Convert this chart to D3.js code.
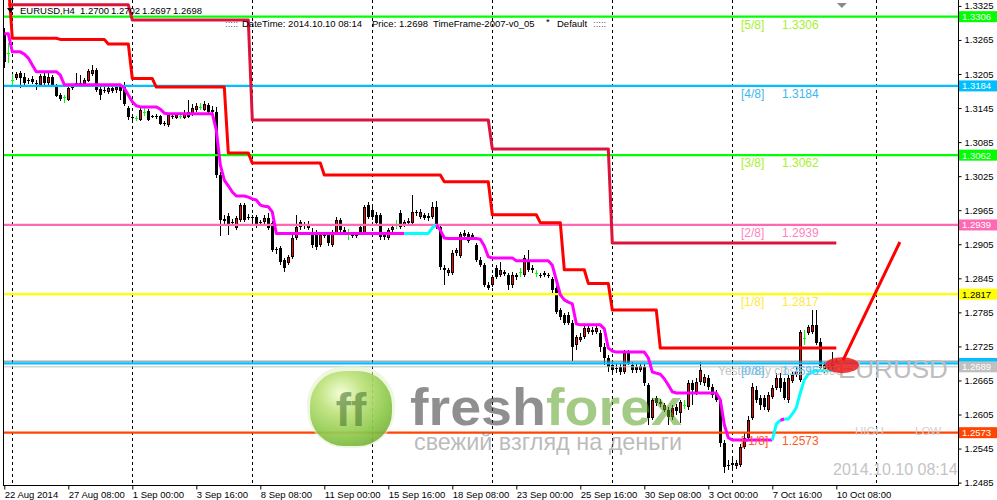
<!DOCTYPE html>
<html><head><meta charset="utf-8">
<script src="https://cdn.jsdelivr.net/npm/d3@7"></script>
<style>
body{margin:0;background:#fff}
svg{display:block}
text{font-family:"Liberation Sans",Arial,sans-serif}
</style>
</head><body>
<svg id="chart" width="997" height="500"></svg>
<script>
// ---------------- DATA ----------------
const symbolHeader = ["EURUSD,H4", "1.2700", "1.2702", "1.2697", "1.2698"];
const infoLine = [":::::", "DateTime: 2014.10.10 08:14", "Price: 1.2698", "TimeFrame-2007-v0_05", "*", "Default", ":::::"];

const priceTicks = [1.3325,1.3265,1.3205,1.3145,1.3085,1.3025,1.2965,1.2905,1.2845,1.2785,1.2725,1.2665,1.2605,1.2545,1.2485];
const timeTickBars = [0,16,32,48,64,80,96,112,128,144,160,176,192,208];
const timeTickLabels = ["22 Aug 2014","27 Aug 08:00","1 Sep 00:00","3 Sep 16:00","8 Sep 08:00","11 Sep 00:00","15 Sep 16:00","18 Sep 08:00","23 Sep 00:00","25 Sep 16:00","30 Sep 08:00","3 Oct 00:00","7 Oct 16:00","10 Oct 08:00"];
const weekStartBars = [2,32,62,92,122,152,182,218];

// OHLC, H4 bars from 22 Aug 2014 16:00 to 10 Oct 2014 08:00
const candles = [
[1.3277,1.3286,1.3216,1.3226],[1.3242,1.3260,1.3224,1.3242],[1.3194,1.3205,1.3184,1.3194],[1.3198,1.3209,1.3194,1.3205],
[1.3207,1.3210,1.3180,1.3198],[1.3200,1.3207,1.3186,1.3189],[1.3194,1.3198,1.3187,1.3193],[1.3196,1.3202,1.3187,1.3191],
[1.3189,1.3194,1.3177,1.3187],[1.3186,1.3205,1.3182,1.3202],[1.3202,1.3207,1.3186,1.3189],[1.3189,1.3207,1.3186,1.3200],
[1.3200,1.3203,1.3184,1.3186],[1.3186,1.3187,1.3165,1.3166],[1.3168,1.3172,1.3157,1.3161],[1.3165,1.3168,1.3154,1.3165],
[1.3159,1.3184,1.3157,1.3180],[1.3180,1.3186,1.3177,1.3182],[1.3189,1.3207,1.3182,1.3186],[1.3186,1.3203,1.3182,1.3189],
[1.3187,1.3198,1.3184,1.3194],[1.3193,1.3214,1.3191,1.3210],[1.3205,1.3221,1.3202,1.3212],[1.3212,1.3216,1.3173,1.3177],
[1.3179,1.3182,1.3159,1.3168],[1.3177,1.3182,1.3172,1.3175],[1.3173,1.3184,1.3170,1.3180],[1.3180,1.3184,1.3172,1.3175],
[1.3177,1.3186,1.3172,1.3182],[1.3182,1.3187,1.3159,1.3175],[1.3184,1.3191,1.3149,1.3152],[1.3145,1.3149,1.3124,1.3129],
[1.3129,1.3133,1.3124,1.3128],[1.3128,1.3131,1.3122,1.3128],[1.3124,1.3145,1.3122,1.3142],[1.3138,1.3147,1.3131,1.3138],
[1.3140,1.3143,1.3122,1.3124],[1.3129,1.3133,1.3128,1.3131],[1.3131,1.3135,1.3126,1.3129],[1.3131,1.3133,1.3115,1.3117],
[1.3119,1.3122,1.3113,1.3117],[1.3115,1.3135,1.3112,1.3133],[1.3131,1.3135,1.3126,1.3129],[1.3128,1.3136,1.3126,1.3133],
[1.3131,1.3138,1.3126,1.3131],[1.3128,1.3142,1.3126,1.3136],[1.3138,1.3159,1.3128,1.3129],[1.3133,1.3152,1.3131,1.3145],
[1.3142,1.3154,1.3138,1.3149],[1.3147,1.3154,1.3142,1.3147],[1.3142,1.3157,1.3140,1.3152],[1.3150,1.3154,1.3135,1.3138],
[1.3142,1.3149,1.3136,1.3138],[1.3138,1.3147,1.3022,1.3027],[1.3027,1.3032,1.2920,1.2948],[1.2950,1.2957,1.2939,1.2946],
[1.2955,1.2960,1.2921,1.2939],[1.2944,1.2950,1.2937,1.2942],[1.2934,1.2955,1.2930,1.2951],[1.2948,1.2978,1.2944,1.2974],
[1.2974,1.2978,1.2944,1.2948],[1.2951,1.2958,1.2948,1.2953],[1.2953,1.2957,1.2944,1.2951],[1.2953,1.2957,1.2934,1.2941],
[1.2944,1.2948,1.2939,1.2942],[1.2944,1.2957,1.2941,1.2951],[1.2951,1.2960,1.2930,1.2934],[1.2942,1.2946,1.2891,1.2895],
[1.2897,1.2900,1.2888,1.2895],[1.2898,1.2902,1.2868,1.2874],[1.2877,1.2881,1.2856,1.2863],[1.2872,1.2886,1.2868,1.2883],
[1.2883,1.2921,1.2879,1.2916],[1.2916,1.2957,1.2913,1.2935],[1.2944,1.2948,1.2930,1.2935],[1.2939,1.2944,1.2932,1.2937],
[1.2934,1.2946,1.2930,1.2941],[1.2925,1.2934,1.2898,1.2904],[1.2925,1.2930,1.2895,1.2900],[1.2904,1.2927,1.2900,1.2921],
[1.2921,1.2927,1.2916,1.2920],[1.2921,1.2927,1.2902,1.2907],[1.2904,1.2930,1.2900,1.2925],[1.2925,1.2953,1.2921,1.2948],
[1.2948,1.2951,1.2927,1.2930],[1.2930,1.2935,1.2921,1.2925],[1.2923,1.2932,1.2913,1.2923],[1.2923,1.2927,1.2916,1.2920],
[1.2920,1.2925,1.2916,1.2921],[1.2935,1.2939,1.2921,1.2925],[1.2925,1.2974,1.2921,1.2971],[1.2974,1.2980,1.2950,1.2953],
[1.2965,1.2971,1.2948,1.2953],[1.2957,1.2962,1.2937,1.2942],[1.2957,1.2960,1.2913,1.2918],[1.2921,1.2925,1.2913,1.2918],
[1.2916,1.2934,1.2913,1.2930],[1.2930,1.2939,1.2927,1.2935],[1.2939,1.2948,1.2932,1.2939],[1.2960,1.2965,1.2932,1.2935],
[1.2939,1.2948,1.2935,1.2944],[1.2942,1.2951,1.2939,1.2946],[1.2942,1.2992,1.2939,1.2962],[1.2962,1.2965,1.2955,1.2960],
[1.2953,1.2967,1.2950,1.2962],[1.2957,1.2960,1.2948,1.2951],[1.2955,1.2960,1.2946,1.2951],[1.2953,1.2980,1.2950,1.2971],
[1.2971,1.2981,1.2932,1.2935],[1.2935,1.2941,1.2860,1.2865],[1.2863,1.2868,1.2833,1.2860],[1.2854,1.2863,1.2849,1.2860],
[1.2854,1.2895,1.2851,1.2890],[1.2890,1.2898,1.2884,1.2895],[1.2884,1.2927,1.2881,1.2923],[1.2925,1.2930,1.2916,1.2920],
[1.2923,1.2927,1.2907,1.2911],[1.2921,1.2925,1.2914,1.2918],[1.2904,1.2907,1.2874,1.2877],[1.2877,1.2883,1.2865,1.2868],
[1.2868,1.2872,1.2830,1.2833],[1.2833,1.2839,1.2824,1.2828],[1.2833,1.2851,1.2830,1.2847],[1.2863,1.2868,1.2844,1.2847],
[1.2851,1.2874,1.2847,1.2860],[1.2856,1.2860,1.2849,1.2853],[1.2851,1.2854,1.2824,1.2833],[1.2833,1.2856,1.2828,1.2851],
[1.2847,1.2854,1.2842,1.2851],[1.2856,1.2863,1.2847,1.2856],[1.2851,1.2886,1.2847,1.2881],[1.2877,1.2895,1.2856,1.2860],
[1.2860,1.2868,1.2854,1.2863],[1.2854,1.2860,1.2847,1.2854],[1.2851,1.2854,1.2845,1.2849],[1.2851,1.2858,1.2847,1.2854],
[1.2851,1.2854,1.2845,1.2849],[1.2844,1.2847,1.2819,1.2824],[1.2828,1.2831,1.2782,1.2786],[1.2789,1.2793,1.2772,1.2777],
[1.2780,1.2784,1.2763,1.2766],[1.2780,1.2786,1.2763,1.2766],[1.2766,1.2772,1.2699,1.2724],[1.2728,1.2745,1.2719,1.2742],
[1.2736,1.2749,1.2733,1.2742],[1.2742,1.2763,1.2738,1.2757],[1.2750,1.2763,1.2747,1.2757],[1.2754,1.2759,1.2745,1.2750],
[1.2750,1.2761,1.2747,1.2757],[1.2749,1.2754,1.2715,1.2724],[1.2724,1.2731,1.2692,1.2705],[1.2705,1.2710,1.2680,1.2689],
[1.2692,1.2698,1.2675,1.2683],[1.2687,1.2694,1.2678,1.2685],[1.2689,1.2696,1.2675,1.2680],[1.2680,1.2719,1.2676,1.2713],
[1.2713,1.2719,1.2692,1.2696],[1.2692,1.2698,1.2678,1.2683],[1.2689,1.2696,1.2678,1.2683],[1.2683,1.2696,1.2680,1.2690],
[1.2689,1.2694,1.2655,1.2660],[1.2657,1.2660,1.2587,1.2599],[1.2599,1.2634,1.2595,1.2631],[1.2634,1.2638,1.2620,1.2625],
[1.2627,1.2632,1.2618,1.2624],[1.2613,1.2625,1.2609,1.2622],[1.2613,1.2618,1.2587,1.2601],[1.2601,1.2622,1.2595,1.2617],
[1.2618,1.2624,1.2604,1.2611],[1.2608,1.2631,1.2590,1.2627],[1.2622,1.2631,1.2615,1.2622],[1.2618,1.2666,1.2613,1.2660],
[1.2660,1.2666,1.2622,1.2648],[1.2645,1.2669,1.2639,1.2662],[1.2662,1.2698,1.2657,1.2683],[1.2660,1.2676,1.2655,1.2671],
[1.2669,1.2675,1.2648,1.2654],[1.2654,1.2659,1.2634,1.2639],[1.2643,1.2648,1.2627,1.2631],[1.2631,1.2634,1.2548,1.2555],
[1.2555,1.2560,1.2502,1.2513],[1.2516,1.2525,1.2507,1.2514],[1.2520,1.2528,1.2507,1.2516],[1.2514,1.2525,1.2509,1.2520],
[1.2516,1.2553,1.2513,1.2548],[1.2548,1.2574,1.2544,1.2564],[1.2564,1.2602,1.2560,1.2595],[1.2599,1.2660,1.2595,1.2654],
[1.2648,1.2655,1.2625,1.2631],[1.2634,1.2639,1.2613,1.2622],[1.2634,1.2639,1.2613,1.2618],[1.2613,1.2645,1.2609,1.2639],
[1.2636,1.2657,1.2632,1.2652],[1.2652,1.2678,1.2648,1.2669],[1.2669,1.2678,1.2645,1.2652],[1.2662,1.2669,1.2631,1.2634],
[1.2631,1.2675,1.2625,1.2669],[1.2664,1.2680,1.2660,1.2675],[1.2675,1.2689,1.2671,1.2682],[1.2666,1.2754,1.2662,1.2750],
[1.2740,1.2754,1.2727,1.2740],[1.2749,1.2763,1.2745,1.2759],[1.2750,1.2789,1.2747,1.2763],[1.2763,1.2789,1.2727,1.2731],
[1.2733,1.2740,1.2680,1.2687],[1.2692,1.2698,1.2678,1.2683],[1.2689,1.2694,1.2683,1.2687],[1.2689,1.2715,1.2685,1.2698],
[1.2700,1.2702,1.2697,1.2698]
];

// step lines: [startBar, level]
const weeklyLine = [[1,1.3327],[32,1.3300],[62,1.3124],[122,1.3073],[152,1.2907]];
const dailyLine = [[0,1.3370],[2,1.3268],[14,1.3266],[26,1.3258],[32,1.3197],[38,1.3182],[56,1.3066],[62,1.3048],[80,1.3027],[110,1.3015],[122,1.2957],[134,1.2943],[140,1.2860],[146,1.2836],[152,1.2789],[164,1.2722]];

// trailing line value per bar
const trailLine = [
1.3276,1.3276,1.3244,1.3244,1.3244,1.3240,1.3233,1.3221,1.3209,1.3209,1.3209,1.3209,1.3209,1.3209,1.3203,1.3186,
1.3186,1.3186,1.3186,1.3186,1.3186,1.3186,1.3186,1.3186,1.3186,1.3186,1.3186,1.3186,1.3186,1.3186,1.3180,1.3168,
1.3156,1.3149,1.3147,1.3147,1.3147,1.3147,1.3147,1.3143,1.3136,1.3135,1.3135,1.3135,1.3135,1.3135,1.3135,1.3135,
1.3135,1.3135,1.3135,1.3135,1.3135,1.3106,1.3045,1.3018,1.3008,1.2997,1.2990,1.2990,1.2990,1.2988,1.2985,1.2983,
1.2974,1.2972,1.2971,1.2962,1.2924,1.2924,1.2924,1.2924,1.2924,1.2924,1.2924,1.2924,1.2924,1.2924,1.2924,1.2924,
1.2924,1.2924,1.2924,1.2924,1.2924,1.2924,1.2924,1.2924,1.2924,1.2924,1.2924,1.2924,1.2924,1.2924,1.2924,1.2924,
1.2924,1.2924,1.2924,1.2924,1.2924,1.2924,1.2924,1.2924,1.2924,1.2924,1.2924,1.2934,1.2939,1.2930,1.2916,1.2915,
1.2915,1.2915,1.2915,1.2915,1.2915,1.2915,1.2915,1.2914,1.2902,1.2883,1.2881,1.2881,1.2881,1.2881,1.2881,1.2881,
1.2876,1.2876,1.2876,1.2876,1.2876,1.2876,1.2876,1.2876,1.2876,1.2868,1.2842,1.2816,1.2807,1.2803,1.2800,1.2765,
1.2763,1.2763,1.2763,1.2763,1.2763,1.2763,1.2756,1.2722,1.2717,1.2715,1.2715,1.2715,1.2715,1.2715,1.2715,1.2715,
1.2715,1.2705,1.2680,1.2678,1.2676,1.2668,1.2657,1.2645,1.2643,1.2643,1.2643,1.2643,1.2643,1.2643,1.2643,1.2643,
1.2643,1.2643,1.2643,1.2631,1.2587,1.2564,1.2560,1.2560,1.2560,1.2560,1.2560,1.2560,1.2560,1.2560,1.2560,1.2560,
1.2560,1.2588,1.2595,1.2597,1.2597,1.2606,1.2617,1.2643,1.2666,1.2676,1.2680,1.2682,1.2682,1.2682,1.2682,1.2682,
1.2687
];
// segment ranges [fromBar, toBar] (segment i -> i+1) where the trail is in up-trend colour
const trailUpSegments = [[100,107],[192,193],[195,207]];

const murreyNames = ["[5/8]","[4/8]","[3/8]","[2/8]","[1/8]","[0/8]","[-1/8]"];
const murreyValues = [1.3306,1.3184,1.3062,1.2939,1.2817,1.2695,1.2573];
const murreyLineColors = ["#00FF00","#00BFFF","#00FF00","#FF69B4","#FFFF00","#00BFFF","#FF4500"];
const murreyTextColors = ["#A8F030","#3DB8EE","#A8F030","#FF82BE","#FFE83C","#5CC0F5","#FF5A26"];
const murreyBoxText = ["#fff","#fff","#fff","#fff","#000","","#fff"];

const bidPrice = 1.2689;
const yesterdayClose = 1.2699;
const lastTime = "2014.10.10 08:14";

// ---------------- CHART ----------------
const svg = d3.select("#chart");
const plotL = 3, plotR = 958, plotT = 0, plotB = 485;
const x = d3.scaleLinear().domain([0, 208]).range([4.3, 836.3]);
const y = d3.scaleLinear().domain([1.24808, 1.33301]).range([485, 3]);

svg.append("rect").attr("width",997).attr("height",500).attr("fill","#fff");

const defs = svg.append("defs");
defs.append("clipPath").attr("id","plot").append("rect")
  .attr("x",plotL+1).attr("y",plotT).attr("width",plotR-plotL-1).attr("height",plotB-plotT);
const rg = defs.append("radialGradient").attr("id","blob").attr("cx","38%").attr("cy","30%").attr("r","75%");
rg.append("stop").attr("offset","0%").attr("stop-color","#f4ffd8");
rg.append("stop").attr("offset","35%").attr("stop-color","#b8e070");
rg.append("stop").attr("offset","80%").attr("stop-color","#7cc034");
rg.append("stop").attr("offset","100%").attr("stop-color","#6aa82a");

const plot = svg.append("g").attr("clip-path","url(#plot)");

// weekly grid
plot.append("g").selectAll("line").data(weekStartBars).join("line")
  .attr("x1",d=>Math.round(x(d))+0.5).attr("x2",d=>Math.round(x(d))+0.5)
  .attr("y1",plotT).attr("y2",plotB)
  .attr("stroke","#000").attr("stroke-width",1).attr("stroke-dasharray","3,3");

// header texts (under lines)
const hdr = svg.append("g").attr("font-size","9.5px").attr("fill","#000");
hdr.append("path").attr("d","M7,8 L14,8 L10.5,13 Z").attr("fill","#000");
const hdrX = [20,80,111,142,173];
hdr.selectAll("text.h").data(symbolHeader).join("text").attr("class","h")
  .attr("x",(d,i)=>hdrX[i]).attr("y",14).text(d=>d);
const infoX = [225,242,372,433,546,557,593];
hdr.selectAll("text.i").data(infoLine).join("text").attr("class","i")
  .attr("x",(d,i)=>infoX[i]).attr("y",(d,i)=>i===4?25:27)
  .attr("fill",(d,i)=>(i===0||i===6)?"#555":"#000").text(d=>d);

// candles
const cg = plot.append("g").attr("shape-rendering","crispEdges");
candles.forEach((c,i)=>{
  const [o,h,l,cl] = c;
  const cx = Math.round(x(i));
  const doji = Math.abs(o-cl) < 1e-9;
  const col = doji ? "#00FF00" : "#000";
  cg.append("rect").attr("x",cx).attr("width",1)
    .attr("y",Math.round(y(h))).attr("height",Math.max(1,Math.round(y(l))-Math.round(y(h))))
    .attr("fill",col);
  if (doji) {
    cg.append("rect").attr("x",cx-1).attr("width",3).attr("y",Math.round(y(o))).attr("height",1).attr("fill",col);
    return;
  }
  const top = Math.round(y(Math.max(o,cl))), bot = Math.round(y(Math.min(o,cl)));
  const hgt = Math.max(1, bot-top);
  cg.append("rect").attr("x",cx-1).attr("width",3).attr("y",top).attr("height",hgt).attr("fill","#000");
  if (cl > o && hgt > 2) {
    cg.append("rect").attr("x",cx).attr("width",1).attr("y",top+1).attr("height",hgt-2).attr("fill","#FF0000");
  }
});

// murrey level lines
plot.append("line").attr("x1",plotL).attr("x2",plotR)
  .attr("y1",y(yesterdayClose)).attr("y2",y(yesterdayClose)).attr("stroke","#708090").attr("stroke-width",1);
plot.append("g").selectAll("line").data(murreyValues).join("line")
  .attr("x1",plotL).attr("x2",plotR).attr("y1",d=>y(d)).attr("y2",d=>y(d))
  .attr("stroke",(d,i)=>murreyLineColors[i]).attr("stroke-width",2.3);
plot.append("line").attr("x1",plotL).attr("x2",plotR)
  .attr("y1",y(bidPrice)).attr("y2",y(bidPrice)).attr("stroke","#C0C0C0").attr("stroke-width",1);

// step lines
function expandSteps(steps, lastBar){
  const pts=[];
  steps.forEach((s,k)=>{
    const end = k<steps.length-1 ? steps[k+1][0]-1 : lastBar;
    for(let i=s[0];i<=end;i++) pts.push([i,s[1]]);
  });
  return pts;
}
const line = d3.line().x(d=>x(d[0])).y(d=>y(d[1]));
plot.append("path").attr("d",line(expandSteps(weeklyLine,208)))
  .attr("fill","none").attr("stroke","#DC143C").attr("stroke-width",3).attr("stroke-linejoin","round");
plot.append("path").attr("d",line(expandSteps(dailyLine,208)))
  .attr("fill","none").attr("stroke","#FF0000").attr("stroke-width",3).attr("stroke-linejoin","round");

// trailing line, coloured by trend
function isUp(i){ return trailUpSegments.some(r=>i>=r[0]&&i<=r[1]); }
let runs=[], cur=null;
for(let i=0;i<trailLine.length-1;i++){
  const up=isUp(i);
  if(!cur||cur.up!==up){ cur={up,pts:[[i,trailLine[i]]]}; runs.push(cur); }
  cur.pts.push([i+1,trailLine[i+1]]);
}
plot.append("g").selectAll("path").data(runs).join("path")
  .attr("d",d=>line(d.pts)).attr("fill","none")
  .attr("stroke",d=>d.up?"#00FFFF":"#FF00FF").attr("stroke-width",3).attr("stroke-linejoin","round");

// texts on chart
const lbl = plot.append("g").attr("font-size","12px");
lbl.append("text").attr("x",718).attr("y",y(yesterdayClose)+14).attr("fill","#C4C4C4").text("Yesterday close "+yesterdayClose.toFixed(4));
lbl.selectAll("text.n").data(murreyNames).join("text").attr("class","n")
  .attr("x",741).attr("y",(d,i)=>y(murreyValues[i])+12).attr("fill",(d,i)=>murreyTextColors[i]).text(d=>d);
lbl.selectAll("text.v").data(murreyValues).join("text").attr("class","v")
  .attr("x",782).attr("y",d=>y(d)+12).attr("fill",(d,i)=>murreyTextColors[i]).text(d=>d.toFixed(4));

plot.append("text").attr("x",855).attr("y",435).attr("font-size","11.5px").attr("fill","#CFCFCF").text("HIGH");
plot.append("text").attr("x",915).attr("y",435).attr("font-size","11.5px").attr("fill","#CFCFCF").text("LOW");
plot.append("text").attr("x",838).attr("y",378).attr("font-size","26px").attr("fill","#BEBEBE").text("EURUSD");
plot.append("text").attr("x",833).attr("y",475).attr("font-size","16px").attr("fill","#C4C4C4").text(lastTime);

// highlight ellipse and arrow
plot.append("ellipse").attr("cx",x(209.4)).attr("cy",y(1.2692)).attr("rx",17).attr("ry",8)
  .attr("fill","#EE1C1C").attr("opacity",0.85);
plot.append("line").attr("x1",x(209.7)).attr("y1",y(1.2701)).attr("x2",x(223.9)).attr("y2",y(1.2909))
  .attr("stroke","#FF0000").attr("stroke-width",3);

// chart-shift marker
svg.append("path").attr("d",`M${x(209.4)-5},3 L${x(209.4)+5},3 L${x(209.4)},8 Z`).attr("fill","#8A8A8A");

// logo watermark
const logo = plot.append("g");
logo.append("rect").attr("x",307).attr("y",366).attr("width",88).attr("height",82).attr("rx",38)
  .attr("fill","#e4f2cc").attr("opacity",0.6);
logo.append("rect").attr("x",310).attr("y",371).attr("width",82).attr("height",75).attr("rx",34)
  .attr("fill","url(#blob)").attr("opacity",0.8);
logo.append("text").attr("x",351).attr("y",426).attr("text-anchor","middle")
  .attr("font-size","46px").attr("font-weight","bold").attr("fill","#4d7a34").attr("opacity",0.6).text("ff");
const ff = logo.append("text").attr("x",410).attr("y",425).attr("font-size","52px").attr("font-weight","bold")
  .attr("textLength",272).attr("lengthAdjust","spacingAndGlyphs");
ff.append("tspan").attr("fill","#333").attr("fill-opacity",0.55).text("fresh");
ff.append("tspan").attr("fill","#5aa020").attr("fill-opacity",0.55).text("forex");
logo.append("text").attr("x",414).attr("y",450).attr("font-size","24px").attr("fill","#777").attr("fill-opacity",0.5)
  .attr("textLength",268).attr("lengthAdjust","spacingAndGlyphs").text("свежий взгляд на деньги");

// axes frame
svg.append("line").attr("x1",plotL+0.5).attr("x2",plotL+0.5).attr("y1",0).attr("y2",plotB).attr("stroke","#000");
svg.append("line").attr("x1",plotL).attr("x2",plotR+1).attr("y1",plotB+0.5).attr("y2",plotB+0.5).attr("stroke","#000");
svg.append("line").attr("x1",plotR+0.5).attr("x2",plotR+0.5).attr("y1",0).attr("y2",plotB+1).attr("stroke","#000");

// right price axis
const yAxis = d3.axisRight(y).tickValues(priceTicks).tickFormat(d3.format(".4f")).tickSize(3).tickPadding(3);
const ya = svg.append("g").attr("transform",`translate(${plotR+0.5},0)`).call(yAxis);
ya.select(".domain").remove();
ya.selectAll("text").attr("font-family","Liberation Sans, Arial, sans-serif").attr("font-size","9.5px").attr("fill","#000");
ya.selectAll("line").attr("stroke","#000");

// price labels on axis
const boxes = svg.append("g");
function priceBox(v, fill, tc){
  const cy = y(v);
  boxes.append("rect").attr("x",959).attr("y",cy-5.5).attr("width",38).attr("height",11).attr("fill",fill);
  if (tc) boxes.append("text").attr("x",962).attr("y",cy+3.5).attr("font-size","9.5px").attr("fill",tc).text(v.toFixed(4));
}
murreyValues.forEach((v,i)=>priceBox(v, murreyLineColors[i], murreyBoxText[i]));
priceBox(bidPrice, "#C0C0C0", "#fff");

// time axis
const xAxis = d3.axisBottom(x).tickValues(timeTickBars).tickFormat((d,i)=>timeTickLabels[i]).tickSize(4).tickPadding(2);
const xa = svg.append("g").attr("transform",`translate(0,${plotB+0.5})`).call(xAxis);
xa.select(".domain").remove();
xa.selectAll("text").attr("font-family","Liberation Sans, Arial, sans-serif").attr("font-size","9.5px")
  .attr("fill","#000").attr("text-anchor","start").attr("dx","0");
xa.selectAll("line").attr("stroke","#000");
</script>
</body></html>
